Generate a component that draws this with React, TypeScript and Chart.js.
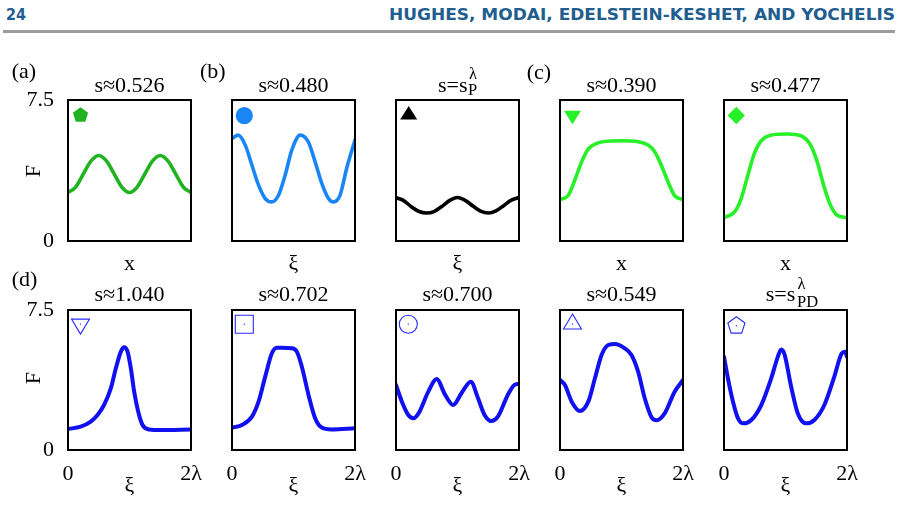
import React, { useEffect, useLayoutEffect, useRef } from "react";
import { Chart, registerables } from "chart.js";

Chart.register(...registerables);

// ---------- axis ticks ----------
const Y_TICK_VALUES = [0, 7.5];
const Y_TICK_LABELS = ["0", "7.5"];
const X_TICK_VALUES = [0, 2];
const X_TICK_LABELS = ["0", "2λ"];

// ---------- profiles F(ξ), ξ in units of λ over one 2λ window ----------
// (a)
const xA = [0, 0.125, 0.25, 0.375, 0.5, 0.625, 0.75, 0.875, 1, 1.125, 1.25, 1.375, 1.5, 1.625, 1.75, 1.875, 2];
const FA = [2.58, 2.87, 3.57, 4.26, 4.55, 4.26, 3.57, 2.87, 2.58, 2.87, 3.57, 4.26, 4.55, 4.26, 3.57, 2.87, 2.58];
// (b)
const xB = [0, 0.1, 0.216, 0.324, 0.432, 0.54, 0.648, 0.756, 0.864, 0.972, 1.108, 1.24, 1.352, 1.46, 1.568, 1.648, 1.756, 1.864, 2.0];
const FB = [5.45, 5.63, 5.1, 4.03, 2.97, 2.26, 2.08, 2.43, 3.5, 4.83, 5.63, 5.28, 4.21, 3.06, 2.26, 2.08, 2.43, 3.86, 5.37];
// s = s_P^λ
const xP = [0, 0.125, 0.25, 0.375, 0.5, 0.625, 0.75, 0.875, 1.0, 1.125, 1.25, 1.375, 1.5, 1.625, 1.75, 1.875, 2.0];
const FP = [2.3, 2.15, 1.82, 1.57, 1.49, 1.58, 1.85, 2.16, 2.31, 2.16, 1.86, 1.59, 1.49, 1.6, 1.88, 2.17, 2.31];
// (c) s≈0.390
const xC1 = [0, 0.136, 0.24, 0.352, 0.46, 0.62, 0.78, 1.0, 1.27, 1.432, 1.54, 1.648, 1.756, 1.86, 2.0];
const FC1 = [2.2, 2.43, 3.23, 4.21, 4.89, 5.22, 5.31, 5.33, 5.28, 5.1, 4.75, 4.03, 3.15, 2.43, 2.2];
// (c) s≈0.477
const xC2 = [0, 0.172, 0.28, 0.388, 0.494, 0.6, 0.76, 1.032, 1.248, 1.408, 1.516, 1.62, 1.732, 1.84, 2.0];
const FC2 = [1.24, 1.55, 2.26, 3.5, 4.66, 5.31, 5.63, 5.69, 5.6, 5.1, 4.21, 2.97, 1.9, 1.37, 1.24];
// (d) s≈1.040
const xD1 = [0, 0.206, 0.37, 0.48, 0.586, 0.696, 0.778, 0.86, 0.914, 0.968, 1.022, 1.076, 1.142, 1.212, 1.32, 1.51, 2.0];
const FD1 = [1.125, 1.25, 1.52, 1.875, 2.41, 3.3, 4.375, 5.27, 5.5, 5.27, 4.375, 3.125, 2.05, 1.34, 1.1, 1.07, 1.1];
// (d) s≈0.702
const xD2 = [0, 0.162, 0.324, 0.432, 0.54, 0.648, 0.73, 0.81, 0.972, 1.054, 1.136, 1.244, 1.352, 1.46, 1.62, 2.0];
const FD2 = [1.2, 1.34, 1.79, 2.59, 3.93, 5.18, 5.48, 5.48, 5.45, 5.27, 4.46, 2.95, 1.7, 1.2, 1.1, 1.16];
// (d) s≈0.700
const xD3 = [0, 0.096, 0.2, 0.284, 0.366, 0.526, 0.66, 0.8, 0.93, 1.064, 1.216, 1.334, 1.44, 1.548, 1.656, 1.818, 1.924, 2.0];
const FD3 = [3.48, 2.59, 1.875, 1.7, 1.96, 3.125, 3.8, 2.95, 2.41, 3.04, 3.66, 2.77, 1.875, 1.55, 1.79, 2.95, 3.48, 3.55];
// (d) s≈0.549
const xD4 = [0, 0.08, 0.19, 0.324, 0.46, 0.568, 0.676, 0.784, 0.892, 1.054, 1.162, 1.27, 1.378, 1.486, 1.568, 1.702, 1.864, 2.0];
const FD4 = [3.75, 3.48, 2.59, 2.09, 2.59, 3.84, 5.09, 5.625, 5.68, 5.45, 5.09, 4.2, 2.77, 1.77, 1.59, 1.96, 3.125, 3.75];
// (d) s = s_PD^λ
const xD5 = [0, 0.064, 0.146, 0.228, 0.318, 0.444, 0.606, 0.768, 0.876, 0.93, 0.984, 1.092, 1.2, 1.336, 1.47, 1.632, 1.794, 1.914, 1.968, 2.0];
const FD5 = [5.0, 3.84, 2.59, 1.7, 1.43, 1.61, 2.41, 3.84, 5.0, 5.39, 5.125, 3.39, 1.96, 1.43, 1.61, 2.41, 3.93, 5.18, 5.27, 5.0];

// ---------- text ----------
const TOP_TITLES = ["s≈0.526", "s≈0.480", "", "s≈0.390", "s≈0.477"];
const BOTTOM_TITLES = ["s≈1.040", "s≈0.702", "s≈0.700", "s≈0.549", ""];
const TOP_XLABELS = ["x", "ξ", "ξ", "x", "x"];
const BOTTOM_XLABEL = "ξ";
const Y_LABEL = "F";
const PANEL_LETTERS = ["(a)", "(b)", "(c)", "(d)"];
const PAGE_NUMBER = "24";
const RUNNING_HEAD = "HUGHES, MODAI, EDELSTEIN-KESHET, AND YOCHELIS";

// ---------- layout & style ----------
const SERIF = '"Liberation Serif", "Times New Roman", serif';
const FS = 22;
const BOX_LEFT = [68, 232, 396, 560, 724];
const BOX_W = 123;
const ROW_TOP = [100, 310];
const ROW_H = [141, 140];
const PADL = 60;
const PADT = 30;
const PADR = 30;
const PADB = 40;

const GREEN = "#1fb41f";
const SKY = "#1a86f5";
const LIME = "#28f028";
const BLUE = "#1010f0";
const OPEN_BLUE = "#2a2aff";

type Marker = {
  shape: "circle" | "pentagon" | "triUp" | "triDown" | "diamond" | "square";
  fill: boolean;
  color: string;
  cx: number;
  cy: number;
  r?: number;
  w?: number;
  h?: number;
};

type Panel = {
  row: number;
  col: number;
  xs: number[];
  ys: number[];
  color: string;
  lw: number;
  marker: Marker;
};

const PANELS: Panel[] = [
  { row: 0, col: 0, xs: xA, ys: FA, color: GREEN, lw: 3.6, marker: { shape: "pentagon", fill: true, color: GREEN, cx: 12.5, cy: 15.3, r: 8 } },
  { row: 0, col: 1, xs: xB, ys: FB, color: SKY, lw: 3.6, marker: { shape: "circle", fill: true, color: SKY, cx: 12.3, cy: 15.6, r: 8.6 } },
  { row: 0, col: 2, xs: xP, ys: FP, color: "#000000", lw: 3.6, marker: { shape: "triUp", fill: true, color: "#000000", cx: 12.7, cy: 14.9, w: 17, h: 13.5 } },
  { row: 0, col: 3, xs: xC1, ys: FC1, color: LIME, lw: 3.6, marker: { shape: "triDown", fill: true, color: LIME, cx: 12.5, cy: 15.2, w: 17, h: 13.5 } },
  { row: 0, col: 4, xs: xC2, ys: FC2, color: LIME, lw: 3.6, marker: { shape: "diamond", fill: true, color: LIME, cx: 12.3, cy: 15.5, r: 8.7 } },
  { row: 1, col: 0, xs: xD1, ys: FD1, color: BLUE, lw: 4, marker: { shape: "triDown", fill: false, color: OPEN_BLUE, cx: 12.5, cy: 14.1, w: 18, h: 15 } },
  { row: 1, col: 1, xs: xD2, ys: FD2, color: BLUE, lw: 4, marker: { shape: "square", fill: false, color: OPEN_BLUE, cx: 12.3, cy: 14.2, w: 18 } },
  { row: 1, col: 2, xs: xD3, ys: FD3, color: BLUE, lw: 4, marker: { shape: "circle", fill: false, color: OPEN_BLUE, cx: 12.3, cy: 14.2, r: 9 } },
  { row: 1, col: 3, xs: xD4, ys: FD4, color: BLUE, lw: 4, marker: { shape: "triUp", fill: false, color: OPEN_BLUE, cx: 12.5, cy: 14, w: 18, h: 15 } },
  { row: 1, col: 4, xs: xD5, ys: FD5, color: BLUE, lw: 4, marker: { shape: "pentagon", fill: false, color: OPEN_BLUE, cx: 12.4, cy: 15.8, r: 9 } },
];

function drawMarker(ctx: CanvasRenderingContext2D, m: Marker, x0: number, y0: number) {
  const cx = x0 + m.cx;
  const cy = y0 + m.cy;
  ctx.save();
  ctx.beginPath();
  if (m.shape === "circle") {
    ctx.arc(cx, cy, m.r!, 0, Math.PI * 2);
  } else if (m.shape === "pentagon") {
    for (let k = 0; k < 5; k++) {
      const a = -Math.PI / 2 + (k * 2 * Math.PI) / 5;
      const px = cx + m.r! * Math.cos(a);
      const py = cy + m.r! * Math.sin(a);
      if (k === 0) ctx.moveTo(px, py);
      else ctx.lineTo(px, py);
    }
  } else if (m.shape === "triUp") {
    const w = m.w!, h = m.h!;
    ctx.moveTo(cx, cy - (2 * h) / 3);
    ctx.lineTo(cx + w / 2, cy + h / 3);
    ctx.lineTo(cx - w / 2, cy + h / 3);
  } else if (m.shape === "triDown") {
    const w = m.w!, h = m.h!;
    ctx.moveTo(cx - w / 2, cy - h / 3);
    ctx.lineTo(cx + w / 2, cy - h / 3);
    ctx.lineTo(cx, cy + (2 * h) / 3);
  } else if (m.shape === "diamond") {
    const r = m.r!;
    ctx.moveTo(cx, cy - r);
    ctx.lineTo(cx + r, cy);
    ctx.lineTo(cx, cy + r);
    ctx.lineTo(cx - r, cy);
  } else if (m.shape === "square") {
    const w = m.w!;
    ctx.rect(cx - w / 2, cy - w / 2, w, w);
  }
  ctx.closePath();
  if (m.fill) {
    ctx.fillStyle = m.color;
    ctx.fill();
  } else {
    ctx.strokeStyle = m.color;
    ctx.lineWidth = 1.1;
    ctx.stroke();
    ctx.fillStyle = m.color;
    ctx.fillRect(cx - 0.6, cy - 0.6, 1.2, 1.2);
  }
  ctx.restore();
}

function PanelChart({ panel }: { panel: Panel }) {
  const ref = useRef<HTMLCanvasElement | null>(null);
  const h = ROW_H[panel.row];
  const W = BOX_W + PADL + PADR;
  const H = h + PADT + PADB;
  const left = BOX_LEFT[panel.col] - PADL;
  const top = ROW_TOP[panel.row] - PADT;
  const showY = panel.col === 0;
  const showX = panel.row === 1;

  useEffect(() => {
    if (!ref.current) return;
    const framePlugin = {
      id: "panelFrame",
      afterDatasetsDraw(chart: any) {
        const { ctx, chartArea: a } = chart;
        ctx.save();
        ctx.strokeStyle = "#000";
        ctx.lineWidth = 2;
        ctx.strokeRect(a.left, a.top, a.right - a.left, a.bottom - a.top);
        ctx.restore();
        drawMarker(ctx, panel.marker, a.left, a.top);
      },
    };
    const tickFont = { family: SERIF, size: FS };
    const chart = new Chart(ref.current, {
      type: "line",
      data: {
        datasets: [
          {
            data: panel.xs.map((x, i) => ({ x, y: panel.ys[i] })),
            borderColor: panel.color,
            borderWidth: panel.lw,
            pointRadius: 0,
            fill: false,
            cubicInterpolationMode: "monotone",
            borderCapStyle: "round",
            borderJoinStyle: "round",
          },
        ],
      },
      options: {
        responsive: false,
        animation: false,
        devicePixelRatio: 1,
        events: [],
        layout: { padding: { left: 0, top: PADT, right: PADR, bottom: 0 } },
        plugins: {
          legend: { display: false },
          tooltip: { enabled: false },
          title: { display: false },
        },
        scales: {
          x: {
            type: "linear",
            min: 0,
            max: 2,
            grid: { display: false, drawTicks: false },
            border: { display: false },
            ticks: {
              display: showX,
              padding: 11,
              font: tickFont,
              color: "#000",
              maxRotation: 0,
              autoSkip: false,
              callback: (_v: any, i: number) => X_TICK_LABELS[i],
            },
            afterBuildTicks: (s: any) => {
              s.ticks = X_TICK_VALUES.map((value) => ({ value }));
            },
            afterFit: (s: any) => {
              s.height = PADB;
              s.paddingLeft = 0;
              s.paddingRight = 0;
            },
          },
          y: {
            type: "linear",
            min: 0,
            max: 7.5,
            grid: { display: false, drawTicks: false },
            border: { display: false },
            ticks: {
              display: showY,
              padding: 14,
              font: tickFont,
              color: "#000",
              autoSkip: false,
              callback: (_v: any, i: number) => Y_TICK_LABELS[i],
            },
            afterBuildTicks: (s: any) => {
              s.ticks = Y_TICK_VALUES.map((value) => ({ value }));
            },
            afterFit: (s: any) => {
              s.width = PADL;
              s.paddingTop = 0;
              s.paddingBottom = 0;
            },
          },
        },
      } as any,
      plugins: [framePlugin],
    });
    return () => chart.destroy();
  }, [panel]);

  return (
    <canvas
      ref={ref}
      width={W}
      height={H}
      style={{ position: "absolute", left, top, width: W, height: H }}
    />
  );
}

// Serif text positioned by its baseline
function Txt({
  x,
  base,
  children,
  size = FS,
  align = "left",
}: {
  x: number;
  base: number;
  children: React.ReactNode;
  size?: number;
  align?: "left" | "center";
}) {
  return (
    <div
      style={{
        position: "absolute",
        left: x,
        top: base - 0.8375 * size,
        fontFamily: SERIF,
        fontSize: size,
        lineHeight: `${size}px`,
        whiteSpace: "nowrap",
        color: "#000",
        transform: align === "center" ? "translateX(-50%)" : undefined,
      }}
    >
      {children}
    </div>
  );
}

// Running head text squeezed to a given width
function HeadText({ text, left, right, base }: { text: string; left: number; right: number; base: number }) {
  const ref = useRef<HTMLDivElement | null>(null);
  useLayoutEffect(() => {
    const el = ref.current;
    if (!el) return;
    const w = el.getBoundingClientRect().width;
    const target = right - left;
    if (w > 0 && target > 0) {
      el.style.transform = `scaleX(${target / w})`;
    }
  }, [text]);
  const size = 16;
  return (
    <div
      ref={ref}
      style={{
        position: "absolute",
        left,
        top: base - 13.5,
        fontFamily: '"DejaVu Sans Condensed", "DejaVu Sans", sans-serif',
        fontStretch: "condensed",
        fontWeight: 700,
        fontSize: size,
        lineHeight: `${size}px`,
        whiteSpace: "nowrap",
        color: "#215d8e",
        transformOrigin: "left center",
      }}
    >
      {text}
    </div>
  );
}

export default function App() {
  const centers = BOX_LEFT.map((l) => l + BOX_W / 2);
  return (
    <div
      style={{
        position: "absolute",
        left: 0,
        top: 0,
        width: 898,
        height: 522,
        background: "#fff",
        overflow: "hidden",
      }}
    >
      <HeadText text={PAGE_NUMBER} left={6} right={26} base={20} />
      <HeadText text={RUNNING_HEAD} left={389} right={895} base={20} />
      <div style={{ position: "absolute", left: 3, top: 29.5, width: 892, height: 3, background: "#9a9b9d" }} />

      {PANELS.map((p, i) => (
        <PanelChart key={i} panel={p} />
      ))}

      {/* panel letters */}
      <Txt x={11.7} base={78}>{PANEL_LETTERS[0]}</Txt>
      <Txt x={200} base={78}>{PANEL_LETTERS[1]}</Txt>
      <Txt x={526.7} base={79}>{PANEL_LETTERS[2]}</Txt>
      <Txt x={11.7} base={286}>{PANEL_LETTERS[3]}</Txt>

      {/* titles */}
      {TOP_TITLES.map((t, i) =>
        t ? (
          <Txt key={"tt" + i} x={centers[i]} base={92.3} align="center">
            {t}
          </Txt>
        ) : null
      )}
      {BOTTOM_TITLES.map((t, i) =>
        t ? (
          <Txt key={"bt" + i} x={centers[i]} base={301.7} align="center">
            {t}
          </Txt>
        ) : null
      )}
      <Txt x={438} base={92.3}>s=s</Txt>
      <Txt x={468} base={96} size={16.5}>P</Txt>
      <Txt x={469} base={80} size={16.5}>λ</Txt>
      <Txt x={765.7} base={301.7}>s=s</Txt>
      <Txt x={797} base={308} size={16.5}>PD</Txt>
      <Txt x={797.5} base={290} size={16.5}>λ</Txt>

      {/* x labels */}
      {TOP_XLABELS.map((t, i) => (
        <Txt key={"xl" + i} x={centers[i]} base={270} align="center">
          {t}
        </Txt>
      ))}
      {centers.map((c, i) => (
        <Txt key={"bx" + i} x={c} base={492} align="center">
          {BOTTOM_XLABEL}
        </Txt>
      ))}

      {/* y labels */}
      {[170.5, 377.5].map((cy, i) => (
        <div
          key={"yl" + i}
          style={{
            position: "absolute",
            left: 32.5,
            top: cy,
            fontFamily: SERIF,
            fontSize: FS,
            lineHeight: `${FS}px`,
            transform: "translate(-50%, -50%) rotate(-90deg)",
            color: "#000",
          }}
        >
          {Y_LABEL}
        </div>
      ))}
    </div>
  );
}
